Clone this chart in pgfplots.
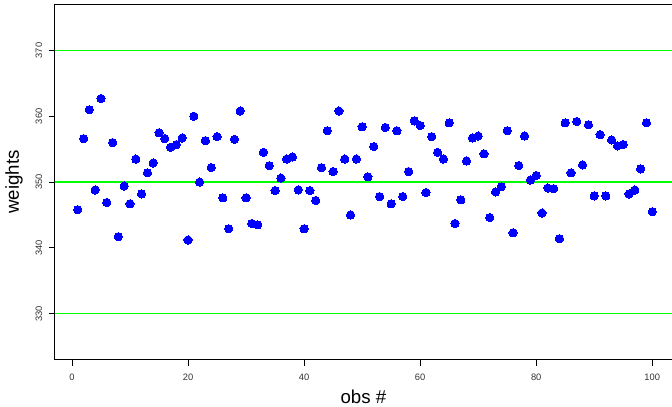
\documentclass[border=0pt]{standalone}
\usepackage{fontspec}
\setmainfont{Liberation Sans}
\usepackage{pgfplots}
\pgfplotsset{compat=1.18}
\definecolor{rgreen}{RGB}{0,255,0}
\definecolor{rblue}{RGB}{0,0,255}
\begin{document}
\begin{tikzpicture}
\begin{axis}[
  name=ax,
  scale only axis,
  width=462.9pt, height=266.5pt,
  xmin=-2.96, xmax=103.4,
  ymin=323, ymax=377,
  axis x line*=box, axis y line*=left,
  xtick pos=left, ytick pos=left,
  xtick={0,20,40,60,80,100},
  ytick={330,340,350,360,370},
  tick align=outside,
  major tick length=4.5pt,
  axis line style={line width=0.75pt, black},
  every tick/.style={black, line width=0.6pt},
  /pgf/number format/assume math mode=true,
  tick label style={font=\fontsize{7}{8}\selectfont, color=black!80},
  xticklabel style={anchor=base, inner sep=0pt, yshift=-10.8pt},
  yticklabel style={anchor=base, inner sep=0pt, xshift=-5pt, rotate=90},
  xlabel={obs \#},
  label style={font=\fontsize{14}{16}\selectfont},
  xlabel style={at={(axis description cs:0.5,0)}, anchor=base, yshift=-32.6pt},
  clip=true,
]
\addplot[rgreen, line width=0.9pt, forget plot] coordinates {(-10,370) (110,370)};
\addplot[rgreen, line width=1.6pt, forget plot] coordinates {(-10,350) (110,350)};
\addplot[rgreen, line width=0.9pt, forget plot] coordinates {(-10,330) (110,330)};
\addplot[only marks, mark=*, mark size=3.1pt, mark options={fill=rblue, draw=rblue, line width=0pt}] table {
x y
1 345.8
2 356.6
3 361.0
4 348.8
5 362.7
6 346.9
7 356.0
8 341.7
9 349.4
10 346.7
11 353.5
12 348.2
13 351.4
14 352.9
15 357.5
16 356.6
17 355.3
18 355.7
19 356.7
20 341.2
21 360.0
22 350.0
23 356.3
24 352.2
25 356.9
26 347.6
27 342.9
28 356.5
29 360.8
30 347.6
31 343.7
32 343.5
33 354.5
34 352.5
35 348.7
36 350.6
37 353.5
38 353.8
39 348.8
40 342.9
41 348.7
42 347.2
43 352.2
44 357.8
45 351.6
46 360.8
47 353.5
48 345.0
49 353.5
50 358.4
51 350.8
52 355.4
53 347.8
54 358.3
55 346.7
56 357.8
57 347.8
58 351.6
59 359.3
60 358.6
61 348.4
62 356.9
63 354.5
64 353.5
65 359.0
66 343.7
67 347.3
68 353.2
69 356.7
70 357.0
71 354.3
72 344.6
73 348.5
74 349.3
75 357.8
76 342.3
77 352.5
78 357.0
79 350.3
80 351.0
81 345.3
82 349.1
83 349.0
84 341.4
85 359.0
86 351.4
87 359.2
88 352.6
89 358.7
90 347.9
91 357.2
92 347.9
93 356.4
94 355.5
95 355.7
96 348.2
97 348.8
98 352.0
99 359.0
100 345.5
};
\end{axis}
\node[font=\fontsize{14}{16}\selectfont, xshift=-27pt, rotate=90, anchor=base] at (ax.west) {weights};
\pgfresetboundingbox
\path[use as bounding box] ([shift={(-41.1pt,-35pt)}]ax.south west) rectangle ([shift={(0pt,3.3pt)}]ax.north east);
\end{tikzpicture}
\end{document}
